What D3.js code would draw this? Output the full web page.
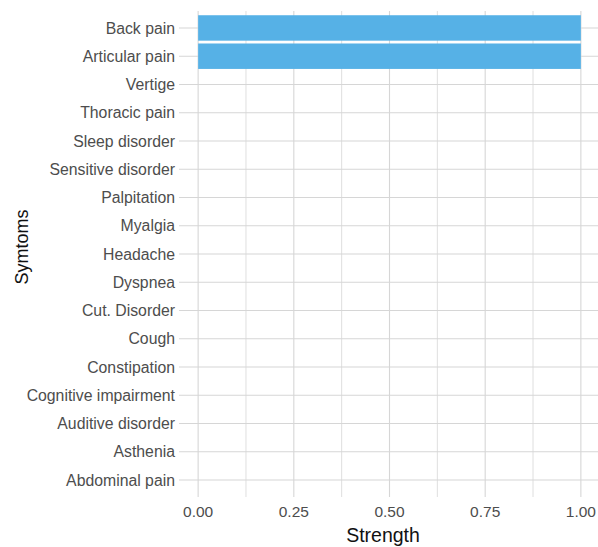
<!DOCTYPE html>
<html><head><meta charset="utf-8">
<script src="https://cdn.jsdelivr.net/npm/d3@7"></script>
<style>body{margin:0;background:#fff;} svg{display:block;font-family:"Liberation Sans",Arial,sans-serif;}</style>
</head><body><svg id="c" width="598" height="547"></svg>
<script>
const categories = ["Back pain","Articular pain","Vertige","Thoracic pain","Sleep disorder","Sensitive disorder","Palpitation","Myalgia","Headache","Dyspnea","Cut. Disorder","Cough","Constipation","Cognitive impairment","Auditive disorder","Asthenia","Abdominal pain"];
const values = [1,1,0,0,0,0,0,0,0,0,0,0,0,0,0,0,0];
const xTicks = [0,0.25,0.5,0.75,1];
const xMinor = [0.125,0.375,0.625,0.875];
const xLabel = "Strength", yLabel = "Symtoms";

const svg = d3.select("#c");
const pL = 179, pR = 600, pT = 11, pB = 497;
const x = d3.scaleLinear().domain([-0.05,1.05]).range([pL,pR]);
const y = d3.scalePoint().domain(categories).range([pT,pB]).padding(0.6);
const step = y.step();
const grid = "#d6d6d6";
const g = svg.append("g");
g.selectAll(".mv").data(xMinor).join("line").attr("x1",d=>x(d)).attr("x2",d=>x(d)).attr("y1",pT).attr("y2",pB).attr("stroke",grid).attr("stroke-width",0.8);
g.selectAll(".Mv").data(xTicks).join("line").attr("x1",d=>x(d)).attr("x2",d=>x(d)).attr("y1",pT).attr("y2",pB).attr("stroke",grid).attr("stroke-width",1.1);
g.selectAll(".hy").data(categories).join("line").attr("x1",pL).attr("x2",pR).attr("y1",d=>y(d)).attr("y2",d=>y(d)).attr("stroke",grid).attr("stroke-width",1.1);
const bw = step*0.9;
g.selectAll(".bar").data(categories.map((c,i)=>({c,v:values[i]}))).join("rect")
 .attr("x",x(0)).attr("y",d=>y(d.c)-bw/2).attr("width",d=>x(d.v)-x(0)).attr("height",bw).attr("fill","#56B1E6");
g.selectAll(".yl").data(categories).join("text").attr("x",175).attr("y",d=>y(d)).attr("dy","0.36em").attr("text-anchor","end")
 .attr("font-size",15.8).attr("fill","#4d4d4d").text(d=>d);
g.selectAll(".xl").data(xTicks).join("text").attr("x",d=>x(d)).attr("y",517).attr("text-anchor","middle")
 .attr("font-size",15.5).attr("fill","#4d4d4d").text(d=>d3.format(".2f")(d));
svg.append("text").attr("x",383).attr("y",542).attr("text-anchor","middle").attr("font-size",19.5).attr("fill","#111").text(xLabel);
svg.append("text").attr("transform","translate(28,247) rotate(-90)").attr("text-anchor","middle").attr("font-size",18).attr("fill","#111").text(yLabel);
</script></body></html>
